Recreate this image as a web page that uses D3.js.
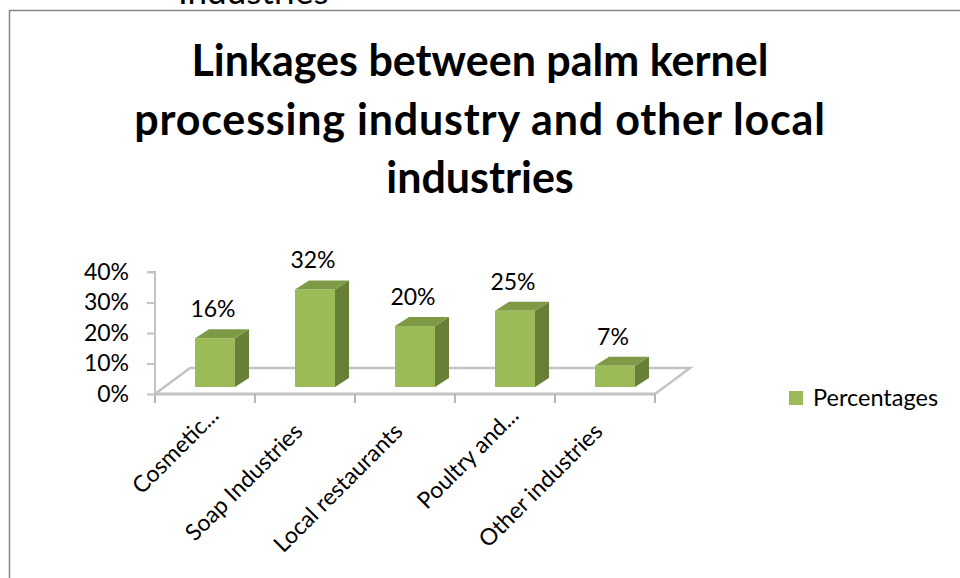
<!DOCTYPE html>
<html>
<head>
<meta charset="utf-8">
<script src="https://cdn.jsdelivr.net/npm/d3@7"></script>
<style>
  body { margin: 0; background: #fff; }
  svg { display: block; font-family: Lato, "Open Sans", sans-serif; }
</style>
</head>
<body>
<svg id="chart" width="960" height="578"></svg>
<script>
const categories = ['Cosmetic...', 'Soap Industries', 'Local restaurants', 'Poultry and...', 'Other industries'];
const values = [0.16, 0.32, 0.20, 0.25, 0.07];
const yTicks = [0, 0.1, 0.2, 0.3, 0.4];
const titleLines = ['Linkages between palm kernel', 'processing industry and other local', 'industries'];
const seriesName = 'Percentages';

const svg = d3.select('#chart');

// chart frame (runs off the right and bottom of the page)
svg.append('rect')
  .attr('x', 9.5).attr('y', 10.5)
  .attr('width', 1000).attr('height', 600)
  .attr('fill', 'none').attr('stroke', '#878787').attr('stroke-width', 1.5);

// piece of text from the page above, cut off at the top
svg.append('text')
  .attr('x', 178).attr('y', 4)
  .attr('font-size', 35)
  .text('Industries');

// title
svg.append('g').selectAll('text')
  .data(titleLines)
  .join('text')
  .attr('x', 480)
  .attr('y', (d, i) => 76 + i * 58.5)
  .attr('text-anchor', 'middle')
  .attr('font-size', 43)
  .attr('font-weight', 'bold')
  .attr('letter-spacing', (d, i) => i === 1 ? 0.8 : 0)
  .text(d => d);

const x = d3.scaleBand().domain(categories).range([155, 655]);
const y = d3.scaleLinear().domain([0, 0.4]).range([394, 272]);

// floor depth and where the bars stand on it
const depth = { dx: 35, dy: -26 };
const shift = { dx: 10, dy: -7 };
const barDepth = { dx: 14, dy: -9 };

const floorColor = '#c3c3c3';
const g = svg.append('g');

// floor
const x0 = x.range()[0], x1 = x.range()[1], y0 = y(0);
g.append('path')
  .attr('d', `M${x0},${y0}L${x0 + depth.dx},${y0 + depth.dy}L${x1 + depth.dx},${y0 + depth.dy}L${x1},${y0}`)
  .attr('fill', 'none').attr('stroke', floorColor).attr('stroke-width', 2.5);
g.append('line')
  .attr('x1', x0).attr('x2', x1).attr('y1', y0).attr('y2', y0)
  .attr('stroke', floorColor).attr('stroke-width', 3);

// value axis
const yAxis = d3.axisLeft(y).tickValues(yTicks).tickFormat(d3.format('.0%')).tickSize(8).tickPadding(18);
const ya = svg.append('g').attr('transform', `translate(${x0},0)`).call(yAxis);
ya.select('.domain').attr('stroke', floorColor).attr('stroke-width', 2).attr('d', `M-8,${y(0.4)}H0V${y0}`);
ya.selectAll('.tick line').attr('stroke', floorColor).attr('stroke-width', 2);
ya.selectAll('.tick text').attr('font-size', 23).attr('fill', '#000').attr('font-family', 'Lato, sans-serif');

// category axis ticks
const xTickPos = categories.map(c => x(c)).concat([x1]);
g.selectAll('.xtick')
  .data(xTickPos)
  .join('line')
  .attr('class', 'xtick')
  .attr('x1', d => d).attr('x2', d => d)
  .attr('y1', y0).attr('y2', y0 + 9)
  .attr('stroke', '#b5b5b5').attr('stroke-width', 2);

// bars
const frontColor = '#9bbb59', sideColor = '#687f37', topColor = '#7e9a47';
const bw = x.bandwidth() * 0.4;
const bars = g.selectAll('.bar')
  .data(categories.map((c, i) => ({ c, v: values[i] })))
  .join('g').attr('class', 'bar');

bars.append('path')
  .attr('fill', sideColor)
  .attr('d', d => {
    const bx = x(d.c) + x.bandwidth() * 0.3 + shift.dx + bw;
    const yb = y0 + shift.dy, yt = y(d.v) + shift.dy;
    return `M${bx},${yb}L${bx + barDepth.dx},${yb + barDepth.dy}L${bx + barDepth.dx},${yt + barDepth.dy}L${bx},${yt}Z`;
  });
bars.append('path')
  .attr('fill', topColor)
  .attr('d', d => {
    const bx = x(d.c) + x.bandwidth() * 0.3 + shift.dx;
    const yt = y(d.v) + shift.dy;
    return `M${bx},${yt}L${bx + barDepth.dx},${yt + barDepth.dy}L${bx + bw + barDepth.dx},${yt + barDepth.dy}L${bx + bw},${yt}Z`;
  });
bars.append('rect')
  .attr('fill', frontColor)
  .attr('x', d => x(d.c) + x.bandwidth() * 0.3 + shift.dx)
  .attr('y', d => y(d.v) + shift.dy)
  .attr('width', bw)
  .attr('height', d => y0 - y(d.v));

// data labels
bars.append('text')
  .attr('x', d => x(d.c) + x.bandwidth() / 2 + 8)
  .attr('y', d => y(d.v) + shift.dy - 21)
  .attr('text-anchor', 'middle')
  .attr('font-size', 23)
  .text(d => d3.format('.0%')(d.v));

// category labels (truncated ones sit a little further up the diagonal)
g.selectAll('.xlabel')
  .data(categories)
  .join('text')
  .attr('class', 'xlabel')
  .attr('text-anchor', 'end')
  .attr('font-size', 23)
  .attr('transform', c => {
    const k = c.endsWith('...') ? 16 : 0;
    return `translate(${x(c) + x.bandwidth() / 2 - 1 + k},${y0 + 39 - k}) rotate(-45)`;
  })
  .text(c => c);

// legend
const lg = svg.append('g').attr('transform', 'translate(789,391)');
lg.append('rect').attr('width', 14).attr('height', 14).attr('fill', frontColor);
lg.append('text').attr('x', 24).attr('y', 15).attr('font-size', 23.5).text(seriesName);
</script>
</body>
</html>
